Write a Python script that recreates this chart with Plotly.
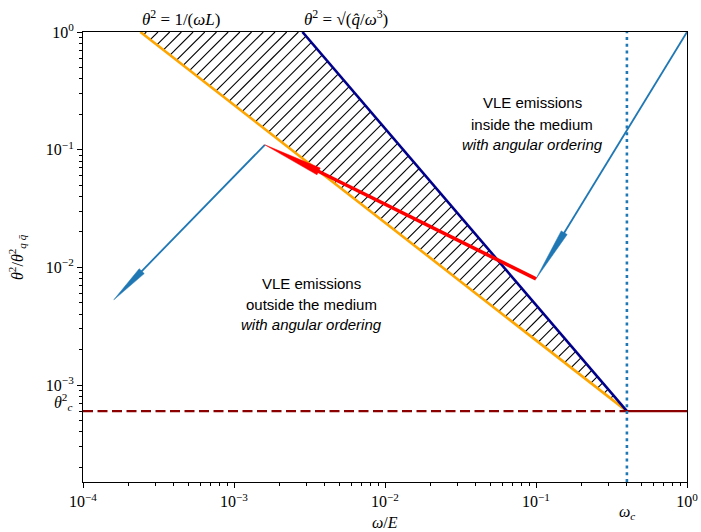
import math
import plotly.graph_objects as go

# ---------------- data ----------------
omega_c = 0.4
theta2_c = 6e-4
y_floor = 1.5e-4

orange_omega = [2.4e-4, 0.4]      # theta^2 = 1/(omega L)
orange_theta2 = [1.0, 6e-4]
navy_omega = [2.84e-3, 0.4]       # theta^2 = sqrt(qhat/omega^3)
navy_theta2 = [1.0, 6e-4]
hatch_omega = [2.4e-4, 2.84e-3, 0.4]
hatch_theta2 = [1.0, 1.0, 6e-4]

# arrows: red (in-medium VLE line), blue (outside), blue (inside)
arrow_from_omega = [0.1, 1.6e-3, 1.0]
arrow_from_theta2 = [8e-3, 0.11, 1.0]
arrow_to_omega = [1.6e-3, 1.6e-4, 0.1]
arrow_to_theta2 = [0.11, 5.3e-3, 8e-3]
arrow_colors = ["#ff0000", "#1f77b4", "#1f77b4"]

x_tick_vals = [1e-4, 1e-3, 1e-2, 1e-1, 1e0]
x_tick_text = ["10<sup>−4</sup>", "10<sup>−3</sup>", "10<sup>−2</sup>", "10<sup>−1</sup>", "10<sup>0</sup>"]
y_tick_vals = [1e-3, 1e-2, 1e-1, 1e0]
y_tick_text = ["10<sup>−3</sup>", "10<sup>−2</sup>", "10<sup>−1</sup>", "10<sup>0</sup>"]

upper_lines = ["VLE emissions", "inside the medium", "<i>with angular ordering</i>"]
lower_lines = ["VLE emissions", "outside the medium", "<i>with angular ordering</i>"]

# ---------------- layout geometry ----------------
W, H = 701, 532
ML, MR, MT, MB = 83, 14, 32, 50
PW, PH = W - ML - MR, H - MT - MB
XMIN, XMAX = -4.0, 0.0
YMIN, YMAX = math.log10(y_floor), 0.0
HATCH_SPACING = 11.7  # px, horizontal distance between hatch lines


def to_px(x, y):
    return ((math.log10(x) - XMIN) / (XMAX - XMIN) * PW,
            (math.log10(y) - YMIN) / (YMAX - YMIN) * PH)


def from_px(px, py):
    return (10 ** (XMIN + px / PW * (XMAX - XMIN)),
            10 ** (YMIN + py / PH * (YMAX - YMIN)))


SERIF = "Liberation Serif"
SANS = "Liberation Sans"

fig = go.Figure()

# hatched region: '/' lines clipped to the triangle (computed in pixel space)
tri = [to_px(a, b) for a, b in zip(hatch_omega, hatch_theta2)]
cs = [p[0] - p[1] for p in tri]  # line family: px - py = c
hx, hy = [], []
c = min(cs) + HATCH_SPACING / 2
while c < max(cs):
    hits = []
    for k in range(3):
        (x1, y1), (x2, y2) = tri[k], tri[(k + 1) % 3]
        f1, f2 = x1 - y1 - c, x2 - y2 - c
        if f1 == f2:
            continue
        t = f1 / (f1 - f2)
        if 0 <= t <= 1:
            hits.append((x1 + t * (x2 - x1), y1 + t * (y2 - y1)))
    if len(hits) >= 2:
        hits.sort()
        a, b = hits[0], hits[-1]
        da, db = from_px(*a), from_px(*b)
        hx += [da[0], db[0], None]
        hy += [da[1], db[1], None]
    c += HATCH_SPACING
fig.add_trace(go.Scatter(x=hx, y=hy, mode="lines", line=dict(color="black", width=1.1),
                         hoverinfo="skip", showlegend=False))

fig.add_trace(go.Scatter(x=orange_omega, y=orange_theta2, mode="lines",
                         line=dict(color="#FFA500", width=2.6), showlegend=False))
fig.add_trace(go.Scatter(x=navy_omega, y=navy_theta2, mode="lines",
                         line=dict(color="#00008B", width=2.6), showlegend=False))

# theta_c^2 horizontal line
fig.add_trace(go.Scatter(x=[1e-4, omega_c], y=[theta2_c, theta2_c], mode="lines",
                         line=dict(color="#8B0000", width=2.4, dash="10px,4.5px"),
                         showlegend=False))
fig.add_trace(go.Scatter(x=[omega_c, 1.0], y=[theta2_c, theta2_c], mode="lines",
                         line=dict(color="#8B0000", width=2.4), showlegend=False))

# omega_c vertical dotted line
fig.add_trace(go.Scatter(x=[omega_c, omega_c], y=[y_floor, 1.0], mode="lines",
                         line=dict(color="#1f77b4", width=2.6, dash="3px,3.8px"),
                         showlegend=False))

# arrows
head_len = [60, 40, 54]
head_wid = [7.5, 7, 7]
shaft_w = [3.6, 1.8, 1.8]
order = [1, 2, 0]
for i in order:
    sx, sy = to_px(arrow_from_omega[i], arrow_from_theta2[i])
    tx, ty = to_px(arrow_to_omega[i], arrow_to_theta2[i])
    dx, dy = tx - sx, ty - sy
    L = math.hypot(dx, dy)
    ux, uy = dx / L, dy / L
    nx, ny = -uy, ux
    bx, by = tx - ux * head_len[i], ty - uy * head_len[i]
    shaft_end = from_px(bx + ux * 2, by + uy * 2)
    fig.add_trace(go.Scatter(
        x=[arrow_from_omega[i], shaft_end[0]], y=[arrow_from_theta2[i], shaft_end[1]],
        mode="lines", line=dict(color=arrow_colors[i], width=shaft_w[i]),
        hoverinfo="skip", showlegend=False))
    hw = head_wid[i] / 2
    pts = [from_px(bx + nx * hw, by + ny * hw), (arrow_to_omega[i], arrow_to_theta2[i]),
           from_px(bx - nx * hw, by - ny * hw)]
    pts.append(pts[0])
    fig.add_trace(go.Scatter(
        x=[p[0] for p in pts], y=[p[1] for p in pts], mode="lines",
        line=dict(color=arrow_colors[i], width=0.5), fill="toself",
        fillcolor=arrow_colors[i], hoverinfo="skip", showlegend=False))

annotations = []
# top formula labels
annotations.append(dict(x=math.log10(orange_omega[0]), y=0, xref="x", yref="y",
                        text="<i>θ</i><sup>2</sup> = 1/(<i>ωL</i>)", showarrow=False,
                        xanchor="left", yanchor="bottom", yshift=1,
                        font=dict(family=SERIF, size=17, color="black")))
annotations.append(dict(x=math.log10(navy_omega[0]), y=0, xref="x", yref="y",
                        text="<i>θ</i><sup>2</sup> = √(<i>q̂</i>/<i>ω</i><sup>3</sup>)",
                        showarrow=False, xanchor="left", yanchor="bottom", yshift=1,
                        font=dict(family=SERIF, size=17, color="black")))

# region texts
up_x, up_y = -1.026, [-0.603, -0.790, -0.960]
lo_x, lo_y = -2.490, [-2.133, -2.319, -2.489]
for t, yy in zip(upper_lines, up_y):
    annotations.append(dict(x=up_x, y=yy, xref="x", yref="y", text=t, showarrow=False,
                            xanchor="center", yanchor="middle",
                            font=dict(family=SANS, size=15, color="black")))
for t, yy in zip(lower_lines, lo_y):
    annotations.append(dict(x=lo_x, y=yy, xref="x", yref="y", text=t, showarrow=False,
                            xanchor="center", yanchor="middle",
                            font=dict(family=SANS, size=15, color="black")))

# theta_c^2 and omega_c labels
annotations.append(dict(x=0, y=math.log10(theta2_c), xref="paper", yref="y",
                        text="<i>θ</i><sup>2</sup><sub><i>c</i></sub>", showarrow=False,
                        xanchor="right", yanchor="middle", xshift=-9, yshift=9,
                        font=dict(family=SERIF, size=16, color="black")))
annotations.append(dict(x=math.log10(omega_c), y=0, xref="x", yref="paper",
                        text="<i>ω</i><sub><i>c</i></sub>", showarrow=False,
                        xanchor="center", yanchor="middle", yshift=-30,
                        font=dict(family=SERIF, size=16, color="black")))
# axis titles
annotations.append(dict(x=0.5, y=0, xref="paper", yref="paper",
                        text="<i>ω</i>/<i>E</i>", showarrow=False,
                        xanchor="center", yanchor="middle", yshift=-40,
                        font=dict(family=SERIF, size=16, color="black")))
annotations.append(dict(x=0, y=0.5, xref="paper", yref="paper",
                        text="<i>θ</i><sup>2</sup>/<i>θ</i><sup>2</sup><sub><i>q q̄</i></sub>",
                        showarrow=False, textangle=-90, xanchor="center", yanchor="middle",
                        xshift=-66, font=dict(family=SERIF, size=16, color="black")))

minor_x = [k * 10 ** d for d in range(-4, 0) for k in range(2, 10)]
minor_y = [k * 10 ** d for d in range(-4, 0) for k in range(2, 10) if k * 10 ** d >= y_floor]

axis_common = dict(showline=True, linecolor="black", linewidth=1.1, mirror=True,
                   ticks="outside", ticklen=5, tickwidth=1.1, tickcolor="black",
                   showgrid=False, zeroline=False,
                   tickfont=dict(family=SERIF, size=16, color="black"))

fig.update_layout(
    width=W, height=H,
    margin=dict(l=ML, r=MR, t=MT, b=MB),
    paper_bgcolor="white", plot_bgcolor="white",
    xaxis=dict(type="log", range=[XMIN, XMAX], tickmode="array",
               tickvals=x_tick_vals, ticktext=x_tick_text, automargin=False,
               minor=dict(tickmode="array", tickvals=minor_x, ticks="outside",
                          ticklen=3, tickwidth=1, tickcolor="black", showgrid=False),
               **axis_common),
    yaxis=dict(type="log", range=[YMIN, YMAX], tickmode="array",
               tickvals=y_tick_vals, ticktext=y_tick_text, automargin=False,
               minor=dict(tickmode="array", tickvals=minor_y, ticks="outside",
                          ticklen=3, tickwidth=1, tickcolor="black", showgrid=False),
               **axis_common),
    annotations=annotations,
    showlegend=False,
)

fig.write_html("out.html", config={"displayModeBar": False},
               post_script="document.body.style.margin='0px';document.body.style.overflow='hidden';")
